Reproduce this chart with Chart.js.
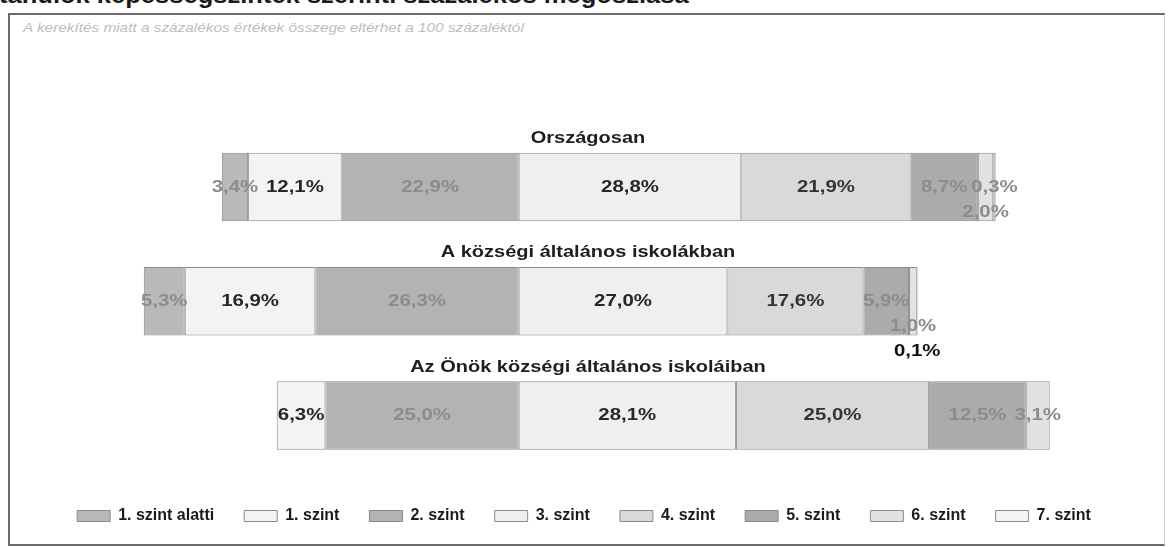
<!DOCTYPE html>
<html lang="hu">
<head>
<meta charset="utf-8">
<script src="https://cdn.jsdelivr.net/npm/chart.js@4.4.1/dist/chart.umd.min.js"></script>
<style>
html,body{margin:0;padding:0;background:#fff;width:1168px;height:547px;overflow:hidden;position:relative;font-family:"Liberation Sans",Arial,sans-serif}
#frame{position:absolute;left:8px;top:13px;width:1154px;height:529px;border:2px solid #6b6b6b;border-right:1px solid #c8c8c8}
#heading{position:absolute;left:-1px;top:-16px;font-size:23px;line-height:23px;font-weight:bold;color:#1a1a1a;white-space:nowrap;transform:scaleX(1.11);transform-origin:left center}
#note{position:absolute;left:23px;top:20px;font-size:13px;font-style:italic;color:#bdbdbd;white-space:nowrap;transform:scaleX(1.18);transform-origin:left center}
canvas{position:absolute;left:0;top:0}
</style>
</head>
<body>
<div id="frame"></div>
<div id="heading">tanulók képességszintek szerinti százalékos megoszlása</div>
<div id="note">A kerekítés miatt a százalékos értékek összege eltérhet a 100 százaléktól</div>
<canvas id="c" width="1168" height="547"></canvas>
<script>
// ---- data ----
const categories = ['Országosan', 'A községi általános iskolákban', 'Az Önök községi általános iskoláiban'];
const levelNames = ['1. szint alatti', '1. szint', '2. szint', '3. szint', '4. szint', '5. szint', '6. szint', '7. szint'];
const belowLevel1 = [3.4, 5.3, 0];
const level1 = [12.1, 16.9, 6.3];
const level2 = [22.9, 26.3, 25.0];
const level3 = [28.8, 27.0, 28.1];
const level4 = [21.9, 17.6, 25.0];
const level5 = [8.7, 5.9, 12.5];
const level6 = [2.0, 1.0, 3.1];
const level7 = [0.3, 0.1, 0];
const series = [belowLevel1, level1, level2, level3, level4, level5, level6, level7];
const alignAfter = 3; // bars are aligned at the boundary between 2. and 3. szint

// ---- styles ----
const levelColors = ['#b9b9b9', '#f3f3f3', '#b3b3b3', '#efefef', '#d9d9d9', '#ababab', '#e2e2e2', '#f4f4f4'];
const labelColors = ['#8c8c8c', '#262626', '#8c8c8c', '#262626', '#333333', '#8c8c8c', '#8c8c8c', '#8c8c8c'];

// floating ranges derived from the data
const floating = series.map(() => []);
categories.forEach((_, i) => {
  let cum = 0;
  for (let k = 0; k < alignAfter; k++) cum -= series[k][i];
  series.forEach((vals, k) => {
    floating[k].push([cum, cum + vals[i]]);
    cum += vals[i];
  });
});

const fmt = v => v.toFixed(1).replace('.', ',') + '%';

function drawText(ctx, txt, x, y, font, color, sx) {
  ctx.save();
  ctx.translate(x, y);
  ctx.scale(sx, 1);
  ctx.font = font;
  ctx.fillStyle = color;
  ctx.textAlign = 'center';
  ctx.textBaseline = 'middle';
  ctx.fillText(txt, 0, 0);
  ctx.restore();
}

const labelPlugin = {
  id: 'segLabels',
  afterDatasetsDraw(chart) {
    const ctx = chart.ctx;
    const area = chart.chartArea;
    const cx = (area.left + area.right) / 2 + 4;
    const titleFont = 'bold 16px "Liberation Sans"';
    const labelFont = 'bold 17px "Liberation Sans"';
    const sx = 1.2;
    const meta0 = chart.getDatasetMeta(0);
    categories.forEach((cat, i) => {
      const el0 = meta0.data[i];
      drawText(ctx, cat, cx, el0.y - el0.height / 2 - 14, titleFont, '#1e1e1e', 1.25);
      const placed = [];
      series.forEach((vals, k) => {
        const v = vals[i];
        if (!(v > 0)) return;
        const e = chart.getDatasetMeta(k).data[i];
        const x = (e.x + e.base) / 2;
        const txt = fmt(v);
        ctx.save(); ctx.font = labelFont;
        const w = ctx.measureText(txt).width * sx;
        ctx.restore();
        let line = 0;
        while (placed.some(p => p.line === line && x - w / 2 < p.r && x + w / 2 > p.l)) line++;
        placed.push({ l: x - w / 2, r: x + w / 2, line });
        drawText(ctx, txt, x, e.y + line * 25, labelFont, line >= 2 ? '#111111' : labelColors[k], sx);
      });
    });
  }
};

Chart.defaults.font.family = '"Liberation Sans", Arial, sans-serif';

new Chart(document.getElementById('c'), {
  type: 'bar',
  data: {
    labels: categories,
    datasets: levelNames.map((name, k) => ({
      label: name,
      data: floating[k],
      backgroundColor: levelColors[k],
      borderColor: '#8a8a8a',
      borderWidth: 1,
      borderSkipped: false,
      barPercentage: 0.6,
      categoryPercentage: 1,
      grouped: false
    }))
  },
  options: {
    indexAxis: 'y',
    responsive: false,
    animation: false,
    devicePixelRatio: 1,
    layout: { padding: { top: 129.9, bottom: 13, left: 0, right: 0 } },
    scales: {
      x: {
        min: -67.1, max: 84,
        ticks: { display: false },
        grid: { display: false },
        border: { display: false },
        afterFit(s) { s.height = 5.4; }
      },
      y: { display: false }
    },
    plugins: {
      legend: {
        position: 'bottom',
        labels: {
          boxWidth: 33, boxHeight: 11, padding: 30, color: '#1a1a1a',
          font: { family: '"Liberation Sans"', size: 16, weight: 'bold' }
        }
      },
      tooltip: { enabled: false }
    }
  },
  plugins: [labelPlugin]
});
</script>
</body>
</html>
